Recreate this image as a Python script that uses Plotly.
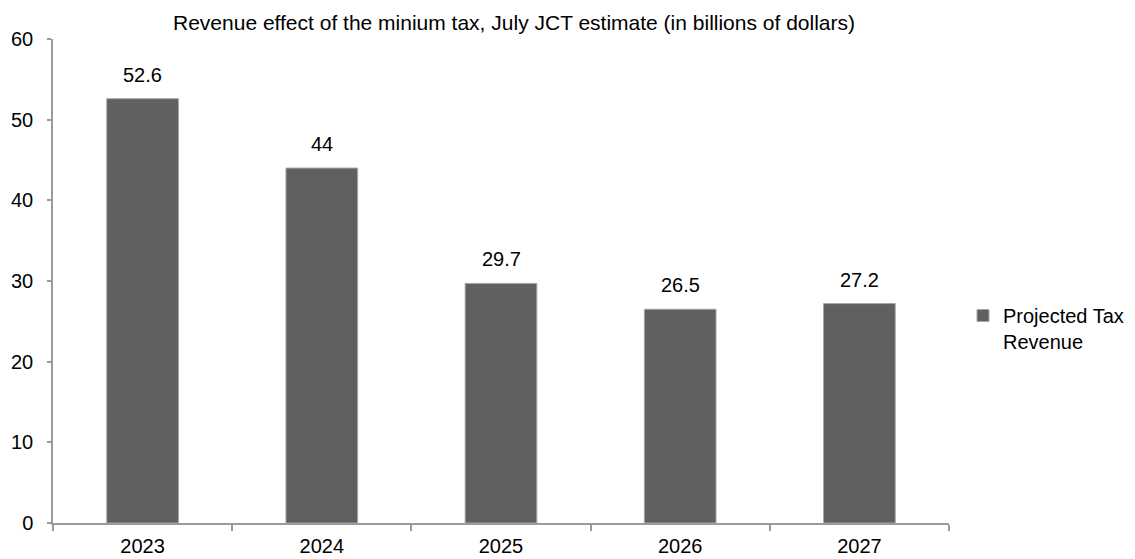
import plotly.graph_objects as go

years = ["2023", "2024", "2025", "2026", "2027"]
revenue = [52.6, 44, 29.7, 26.5, 27.2]
series_name = "Projected Tax<br>Revenue"
title_text = "Revenue effect of the minium tax, July JCT estimate (in billions of dollars)"

FONT = "Liberation Sans, Arial, sans-serif"
FS = 20
W, H = 1135, 559
L, R, T, B = 53, 186, 39, 36
PW, PH = W - L - R, H - T - B

fig = go.Figure()
fig.add_trace(go.Bar(
    x=years, y=revenue, name=series_name,
    marker=dict(color="#606060", line=dict(color="#a6a6a6", width=1)),
    width=0.4,
))

for i, v in enumerate(revenue):
    fig.add_annotation(x=i, y=v, text=f"{v:g}", showarrow=False,
                       yanchor="bottom", yshift=11,
                       font=dict(family=FONT, size=FS, color="#000"))

fig.add_annotation(x=(514 - L) / PW, xref="paper", y=1, yref="paper",
                   yshift=17, text=title_text, showarrow=False,
                   xanchor="center", yanchor="middle",
                   font=dict(family=FONT, size=21, color="#000"))

fig.update_layout(
    width=W, height=H,
    margin=dict(l=L, r=R, t=T, b=B, autoexpand=False),
    paper_bgcolor="white", plot_bgcolor="white",
    font=dict(family=FONT, size=FS, color="#000"),
    showlegend=True,
    legend=dict(x=(963 - L) / PW, y=(523 - 296) / PH, xanchor="left", yanchor="top",
                font=dict(family=FONT, size=FS, color="#000"),
                valign="top", itemwidth=30, bgcolor="rgba(0,0,0,0)"),
    xaxis=dict(type="category", range=[-0.5, len(years) - 0.5],
               showline=True, linecolor="#9b9b9b", linewidth=1.5,
               ticks="outside", tickson="boundaries", ticklen=6,
               tickcolor="#9b9b9b", tickwidth=1.5, showgrid=False,
               ticklabelstandoff=4,
               tickfont=dict(family=FONT, size=FS, color="#000")),
    yaxis=dict(range=[0, 60], dtick=10, showline=True, linecolor="#9b9b9b",
               linewidth=1.5, ticks="outside", ticklen=4, tickcolor="#9b9b9b",
               tickwidth=1.5, showgrid=False, zeroline=False,
               ticklabelstandoff=10,
               tickfont=dict(family=FONT, size=FS, color="#000")),
    bargap=0.6,
)

fig.write_html("out.html")
